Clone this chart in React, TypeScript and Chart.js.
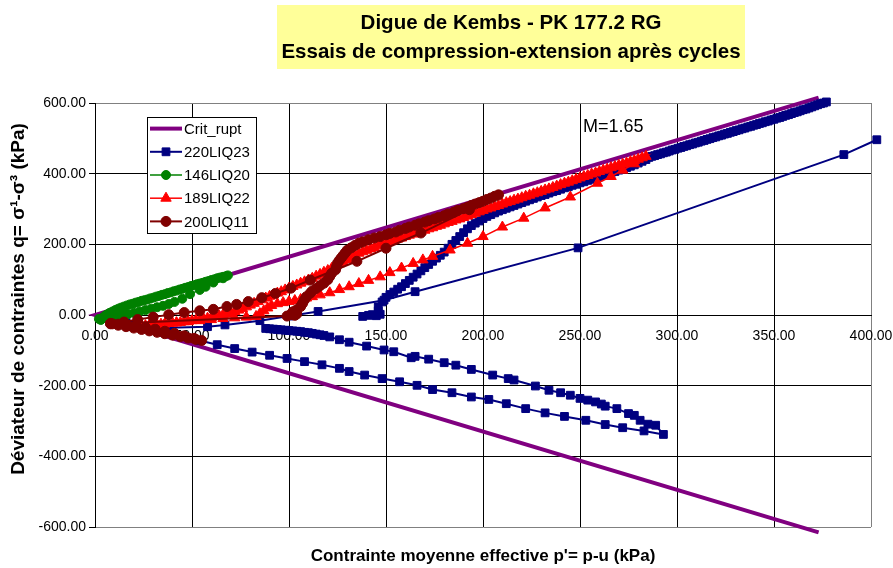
import React, { useEffect, useRef } from "react";
import { Chart, registerables } from "chart.js";

Chart.register(...registerables);

const FONT = '"Liberation Sans", Arial, Helvetica, sans-serif';

const TITLE_LINES = ["Digue de Kembs - PK 177.2 RG", "Essais de compression-extension après cycles"];
const X_TITLE = "Contrainte moyenne effective p'= p-u (kPa)";
const Y_TITLE = "Déviateur de contraintes q= σ¹-σ³ (kPa)";
const M_LABEL = "M=1.65";
const M_LABEL_POS = [251.5, 533];

const SERIES_NAMES = ["Crit_rupt", "220LIQ23", "146LIQ20", "189LIQ22", "200LIQ11"];
const SERIES_COLORS = ["#800080", "#000080", "#008000", "#FF0000", "#800000"];

const X_MIN = 0, X_MAX = 400, X_STEP = 50;
const Y_MIN = -600, Y_MAX = 600, Y_STEP = 200;

// Crit_rupt (failure lines through origin)
const CRIT_P = [373, 0, 373];
const CRIT_Q = [615, 0, -615];

// 220LIQ23 (null = break in the line)
const NAVY_P = [
  16, 25, 35, 45, 54, 63, 72, 81, 90, 99, 108, 117, 126, 131, 139, 148, 157, 166, 174, 184, 194, 203, 212, 222, 232, 242, 253, 263, 272, 283, 293,
  289, 285, 281, 278, 275, 269, 263, 261, 258, 254, 250, 245, 240, 234, 227, 216, 213, 205, 194, 186, 180, 172, 165, 163, 154, 149, 140, 131, 126, 121, 118, 116, 114, 112, 110, 108, 106, 104, 102, 100, 98, 96, 94, 92, 90, 88,
  null,
  18, 38, 58, 67, 85, 100, 115, 149, 165, 249, 386, 403,
  null,
  138, 141, 143, 145, 147, 146, 146, 148, 150, 152, 154, 156, 158, 160, 162, 164, 166, 168, 170, 172, 174, 176, 178, 180, 182, 184, 186, 188, 190, 192, 194, 196, 198, 200, 202, 204, 206, 208, 210, 212, 214, 216, 218, 220, 222, 224, 226, 228, 230, 232, 234, 236, 238, 240, 242, 244, 246, 248, 250, 252, 254, 256, 258, 260, 262, 264, 266, 268, 270, 272, 274, 276, 278, 280, 282, 284,
  285.5, 287, 288.5, 290, 291.5, 293, 294.5, 296, 297.5, 299, 300.5, 302, 303.5, 305, 306.5, 308, 309.5, 311, 312.5, 314, 315.5, 317, 318.5, 320, 321.5, 323, 324.5, 326, 327.5, 329, 330.5, 332, 333.5, 335, 336.5, 338, 339.5, 341, 342.5, 344, 345.5, 347, 348.5, 350, 351.5, 353, 354.5, 356, 357.5, 359, 360.5, 362, 363.5, 365, 366.5, 368, 369.5, 371, 372.5, 374, 375.5, 377,
];
const NAVY_Q = [
  -22, -35, -48, -61, -72, -84, -95, -105, -114, -123, -132, -141, -151, -160, -170, -180, -189, -199, -211, -220, -232, -239, -251, -265, -277, -287, -298, -310, -319, -328, -338,
  -312, -309, -298, -284, -279, -265, -258, -252, -246, -241, -236, -227, -220, -213, -201, -184, -180, -170, -154, -142, -135, -125, -117, -121, -104, -99, -88, -77, -70, -62, -58, -56, -54, -52, -50, -49, -47, -46, -45, -44, -43, -42, -41, -40, -39, -38,
  null,
  -28, -36, -33, -28, -16, -3, 10, 42, 66, 190, 454, 496,
  null,
  -4, -1, 1, -2, 2, 12, 23, 37, 50, 58, 65, 73, 80, 89, 98, 107, 116, 125, 134, 143, 152, 161, 169, 178, 189, 200, 211, 222, 233, 244, 253, 260, 266, 273, 279, 284, 289, 294, 298, 302, 306, 310, 314, 318, 322, 326, 330, 334, 338, 341, 345, 349, 352, 356, 360, 363, 367, 370, 374, 377, 381, 384, 388, 391, 395, 399, 402, 406, 410, 413, 417, 421, 425, 430, 435, 440,
  446, 449, 451, 454, 456, 459, 461, 464, 467, 469, 472, 474, 477, 479, 482, 484, 487, 489, 492, 494, 497, 499, 502, 504, 507, 509, 512, 514, 517, 519, 522, 524, 527, 529, 532, 534, 537, 539, 542, 544, 547, 549, 552, 554, 557, 559, 562, 565, 567, 570, 573, 575, 578, 581, 583, 586, 589, 592, 595, 598, 600, 603,
];

// 146LIQ20
const GREEN_P = [
  3, 4, 5, 6, 7.5, 9, 10.5, 12, 13.5, 15, 16.5, 18, 19.5, 21, 22.5, 24, 25.5, 27, 28.5, 30, 31.5, 33, 34.5, 36, 37.5, 39, 40.5, 42, 43.5, 45, 46.5, 48, 49.5, 51, 52.5, 54, 55.5, 57, 58.5, 60, 61.5, 63, 64.5, 66, 67.5, 68.5,
  66, 61, 57, 54, 49, 45, 41, 38, 35, 32, 29, 26, 23, 20, 17, 14, 11, 8, 5, 2,
];
const GREEN_Q = [
  -14, -8, -3, 1, 6, 10, 14, 18, 21, 24, 27, 30, 32, 35, 37, 40, 42, 44, 47, 49, 52, 54, 57, 59, 62, 64, 67, 69, 72, 74, 77, 79, 82, 84, 87, 89, 91, 94, 96, 99, 101, 104, 106, 108, 110, 112,
  104, 92, 80, 71, 59, 46, 37, 31, 26, 22, 18, 14, 10, 6, 2, -1, -4, -6, -8, -11,
];

// 189LIQ22
const RED_P = [
  24, 30, 36, 42, 48, 54, 60, 66, 72, 78, 83, 85, 87, 89, 91, 94, 97, 100, 103, 106, 109, 112, 116, 121, 126, 131, 136, 141, 147, 152, 158, 164, 169, 174, 183, 192, 200, 210, 221, 232, 245, 259, 266, 272, 278, 284,
  282, 280, 278, 276, 274, 272, 270, 268, 266, 264, 262, 260, 258, 256, 254, 252, 250, 248, 246, 244, 242, 240, 238, 236, 234, 232, 230, 228, 226, 224, 222, 220, 218, 216, 214, 212, 210, 208, 206, 204, 202, 200, 198, 196, 194, 192, 190, 188, 186, 184, 182, 180, 178, 176, 174, 172, 170, 168, 166, 164, 162, 160, 158, 156, 154, 152, 150, 148, 146, 144, 142, 140, 138, 136, 134, 132, 130, 128, 126, 124, 122, 120, 118, 116, 114, 112, 110, 108, 106, 104, 102, 100, 98, 96, 94, 92, 90, 88, 86, 84, 82, 80, 78, 76, 74, 72, 70, 68, 66, 64, 62, 60, 58, 56, 54, 52, 50, 48, 46, 44, 42, 40, 38, 36, 34, 32, 30, 28, 26,
];
const RED_Q = [
  -30, -28, -25, -22, -19, -16, -13, -10, -8, -6, -4, 4, 12, 20, 27, 32, 35, 38, 41, 44, 48, 52, 57, 63, 72, 80, 89, 98, 108, 120, 133, 146, 156, 166, 184, 203, 222, 249, 274, 303, 334, 373, 392, 410, 428, 449,
  445, 441, 437, 434, 430, 427, 424, 420, 417, 413, 410, 406, 402, 399, 395, 392, 388, 384, 380, 376, 373, 369, 365, 361, 357, 354, 350, 346, 343, 339, 336, 332, 328, 325, 321, 318, 314, 310, 307, 303, 300, 296, 292, 288, 284, 280, 276, 272, 269, 265, 262, 258, 254, 251, 247, 244, 240, 236, 233, 229, 226, 222, 218, 215, 211, 208, 204, 200, 196, 191, 187, 183, 179, 175, 169, 163, 157, 151, 145, 138, 132, 126, 121, 115, 110, 104, 99, 94, 90, 85, 81, 76, 71, 66, 62, 57, 53, 48, 43, 38, 33, 28, 23, 18, 14, 10, 6, 3, 1, -2, -4, -7, -9, -11, -13, -15, -16, -18, -19, -21, -22, -23, -24, -25, -26, -27, -28, -29, -30,
];

// 200LIQ11
const DRED_P = [
  8, 12, 16, 20, 24, 28, 32, 36, 40, 44, 48, 52, 55, 51, 46, 41, 36, 31, 26, 21, 16, 12, 9,
  99, 101, 103, 104, 102, 104, 106, 107, 108, 109, 111, 112, 114, 116, 118, 120, 121, 122, 124, 124.5, 125, 126, 127, 128, 129, 130, 132, 134, 136, 138, 141, 144, 147, 150, 152, 155, 157, 160, 162, 165, 167, 170, 172, 175, 177, 180, 182, 185, 187, 190, 192, 194, 196, 198, 200, 202, 204, 206, 208,
  193, 168, 150, 135, 111, 101, 93, 86, 79, 73, 68, 61, 54, 46, 38, 30, 22, 15, 8,
];
const DRED_Q = [
  -24, -29, -33, -37, -41, -45, -49, -53, -57, -61, -65, -69, -72, -66, -59, -52, -46, -40, -35, -31, -28, -26, -25,
  -3, 2, -1, 3, 9, 15, 24, 33, 43, 52, 62, 68, 75, 83, 90, 100, 109, 118, 128, 137, 147, 155, 162, 169, 176, 183, 190, 197, 203, 207, 213, 218, 222, 227, 231, 235, 240, 245, 249, 254, 258, 263, 267, 272, 276, 281, 286, 291, 296, 301, 305, 310, 314, 318, 322, 327, 331, 336, 340,
  298, 232, 189, 152, 99, 76, 61, 49, 38, 30, 24, 16, 12, 7, 1, -6, -13, -20, -25,
];

function toPoints(P: (number | null)[], Q: (number | null)[]) {
  return P.map((x, i) => ({ x, y: Q[i] }));
}

function drawMarker(ctx: CanvasRenderingContext2D, style: string, x: number, y: number, r: number, color: string) {
  ctx.fillStyle = color;
  ctx.strokeStyle = color;
  ctx.lineWidth = 1;
  ctx.beginPath();
  if (style === "rect") {
    const s = r * Math.SQRT1_2;
    ctx.rect(x - s, y - s, 2 * s, 2 * s);
  } else if (style === "circle") {
    ctx.arc(x, y, r, 0, Math.PI * 2);
  } else if (style === "triangle") {
    ctx.moveTo(x, y - r);
    ctx.lineTo(x + r * Math.sin((2 * Math.PI) / 3), y - r * Math.cos((2 * Math.PI) / 3));
    ctx.lineTo(x + r * Math.sin((4 * Math.PI) / 3), y - r * Math.cos((4 * Math.PI) / 3));
    ctx.closePath();
  }
  ctx.fill();
  ctx.stroke();
}

const LEGEND_STYLE = [
  { line: 4, marker: "", r: 0 },
  { line: 2, marker: "rect", r: 5.5 },
  { line: 1.5, marker: "circle", r: 4.5 },
  { line: 1.5, marker: "triangle", r: 6 },
  { line: 2, marker: "circle", r: 5 },
];

const decorPlugin = {
  id: "decor",
  afterDraw(chart: any) {
    const ctx: CanvasRenderingContext2D = chart.ctx;
    const area = chart.chartArea;
    ctx.save();
    // title box
    ctx.fillStyle = "#FFFF99";
    ctx.fillRect(277, 5, 468, 64);
    ctx.fillStyle = "#000";
    ctx.font = `bold 20.5px ${FONT}`;
    ctx.textAlign = "center";
    ctx.textBaseline = "middle";
    ctx.fillText(TITLE_LINES[0], 511, 23);
    ctx.fillText(TITLE_LINES[1], 511, 52);
    // axis titles
    ctx.font = `bold 17px ${FONT}`;
    ctx.fillText(X_TITLE, (area.left + area.right) / 2, 556);
    ctx.save();
    ctx.translate(19, 299);
    ctx.rotate(-Math.PI / 2);
    ctx.font = `bold 19px ${FONT}`;
    ctx.fillText(Y_TITLE, 0, 0);
    ctx.restore();
    // M label
    ctx.font = `18px ${FONT}`;
    ctx.textAlign = "left";
    ctx.fillText(M_LABEL, chart.scales.x.getPixelForValue(M_LABEL_POS[0]), chart.scales.y.getPixelForValue(M_LABEL_POS[1]));
    // legend
    const lx = 147, ly = 117, lw = 109, lh = 116;
    ctx.fillStyle = "#fff";
    ctx.fillRect(lx, ly, lw, lh);
    ctx.strokeStyle = "#000";
    ctx.lineWidth = 1;
    ctx.strokeRect(lx + 0.5, ly + 0.5, lw, lh);
    ctx.font = `15px ${FONT}`;
    SERIES_NAMES.forEach((name, i) => {
      const cy = ly + 11.6 + i * 23.2;
      const st = LEGEND_STYLE[i];
      ctx.strokeStyle = SERIES_COLORS[i];
      ctx.lineWidth = st.line;
      ctx.beginPath();
      ctx.moveTo(150, cy);
      ctx.lineTo(182, cy);
      ctx.stroke();
      if (st.marker) drawMarker(ctx, st.marker, 166, cy, st.r, SERIES_COLORS[i]);
      ctx.fillStyle = "#000";
      ctx.textAlign = "left";
      ctx.textBaseline = "middle";
      ctx.fillText(name, 184, cy + 1);
    });
    ctx.restore();
  },
};

export default function App() {
  const ref = useRef<HTMLCanvasElement | null>(null);
  useEffect(() => {
    if (!ref.current) return;
    const mk = (i: number, pts: any[], extra: any) => ({
      label: SERIES_NAMES[i],
      data: pts,
      showLine: true,
      borderColor: SERIES_COLORS[i],
      backgroundColor: SERIES_COLORS[i],
      pointBorderWidth: 1,
      clip: false,
      ...extra,
    });
    const chart = new Chart(ref.current, {
      type: "scatter",
      data: {
        datasets: [
          mk(0, toPoints(CRIT_P, CRIT_Q), { borderWidth: 4, pointRadius: 0, order: 5 }),
          mk(1, toPoints(NAVY_P, NAVY_Q), { borderWidth: 2, pointStyle: "rect", pointRadius: 5.5, order: 4 }),
          mk(2, toPoints(GREEN_P, GREEN_Q), { borderWidth: 1.5, pointStyle: "circle", pointRadius: 4.5, order: 3 }),
          mk(3, toPoints(RED_P, RED_Q), { borderWidth: 1.5, pointStyle: "triangle", pointRadius: 6, order: 2 }),
          mk(4, toPoints(DRED_P, DRED_Q), { borderWidth: 2, pointStyle: "circle", pointRadius: 5, order: 1 }),
        ] as any,
      },
      options: {
        responsive: false,
        devicePixelRatio: 1,
        animation: false,
        events: [],
        layout: { padding: { top: 103, right: 22, bottom: 41, left: 0 } },
        plugins: { legend: { display: false }, tooltip: { enabled: false }, title: { display: false } },
        scales: {
          x: {
            type: "linear",
            position: { y: 0 } as any,
            min: X_MIN,
            max: X_MAX,
            ticks: {
              stepSize: X_STEP,
              callback: (v: any) => Number(v).toFixed(2),
              color: "#000",
              font: { family: FONT, size: 14 },
              padding: 13,
              maxRotation: 0,
              autoSkip: false,
            },
            grid: {
              color: (c: any) => (c.tick && c.tick.value === X_MAX ? "#808080" : "#000"),
              lineWidth: 1,
              drawTicks: false,
            },
            border: { display: true, color: "#000", width: 1 },
            afterFit: (s: any) => {
              s.paddingLeft = 0;
              s.paddingRight = 0;
            },
          },
          y: {
            type: "linear",
            position: "left",
            min: Y_MIN,
            max: Y_MAX,
            ticks: {
              stepSize: Y_STEP,
              callback: (v: any) => Number(v).toFixed(2),
              color: "#000",
              font: { family: FONT, size: 14 },
              padding: 3,
            },
            grid: {
              color: (c: any) => (c.tick && (c.tick.value === Y_MAX || c.tick.value === Y_MIN) ? "#808080" : "#000"),
              tickColor: "#000",
              tickLength: 6,
              lineWidth: 1,
            },
            border: { display: true, color: "#000", width: 1 },
            afterFit: (s: any) => {
              s.width = 95;
            },
          },
        },
      } as any,
      plugins: [decorPlugin],
    });
    return () => chart.destroy();
  }, []);
  return (
    <div style={{ position: "absolute", left: 0, top: 0, width: 893, height: 568, background: "#fff" }}>
      <canvas ref={ref} width={893} height={568} style={{ display: "block" }} />
    </div>
  );
}
